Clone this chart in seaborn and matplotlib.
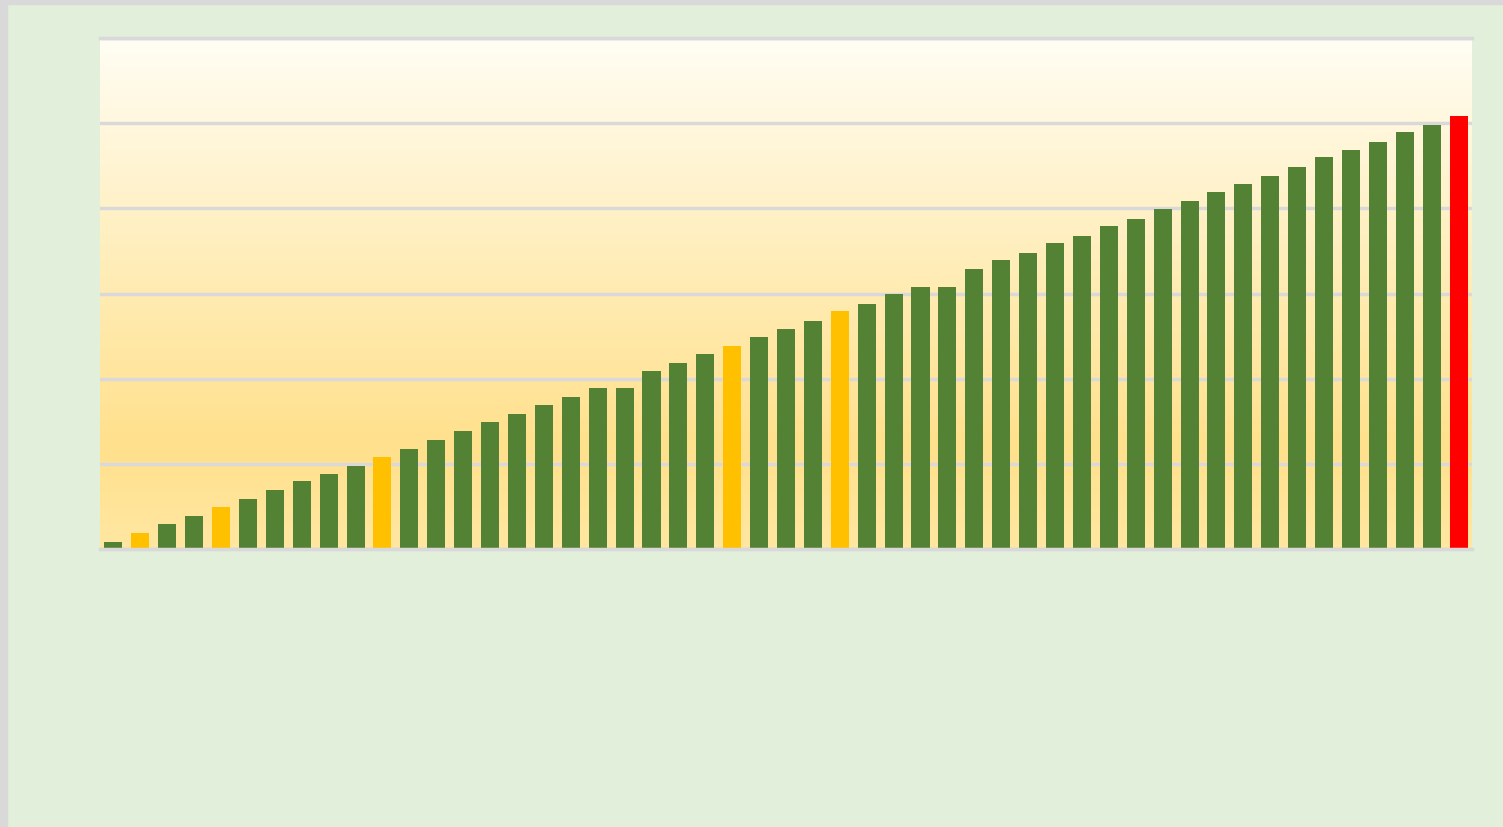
import numpy as np
import pandas as pd
import matplotlib
matplotlib.use("Agg")
import matplotlib.pyplot as plt
import seaborn as sns
from matplotlib.colors import LinearSegmentedColormap
from matplotlib.patches import Rectangle

# bar values (gridline step = 1)
positions = list(range(1, 52))
values = [0.08, 0.19, 0.29, 0.39, 0.49, 0.59, 0.69, 0.80, 0.88, 0.98,
          1.08, 1.18, 1.28, 1.38, 1.49, 1.58, 1.69, 1.78, 1.89, 1.89,
          2.09, 2.18, 2.29, 2.38, 2.49, 2.58, 2.68, 2.79, 2.88, 2.99,
          3.08, 3.08, 3.29, 3.39, 3.48, 3.59, 3.68, 3.79, 3.88, 3.99,
          4.09, 4.19, 4.29, 4.38, 4.49, 4.60, 4.69, 4.78, 4.90, 4.98,
          5.09]
highlight = [2, 5, 11, 24, 28]   # gold bars
last_bar = 51                    # red bar

green, gold, red = "#548235", "#FFC000", "#FF0000"
colors = [red if p == last_bar else gold if p in highlight else green
          for p in positions]

df = pd.DataFrame({"pos": [str(p) for p in positions], "value": values})

sns.set_style("white")
fig = plt.figure(figsize=(15.03, 8.28), dpi=100, facecolor="#E2EFDA")
ax = fig.add_axes([100 / 1503, 1 - 550 / 828, 1372 / 1503, 511 / 828])

sns.barplot(data=df, x="pos", y="value", hue="pos", palette=colors,
            legend=False, width=0.67, saturation=1, linewidth=0,
            edgecolor="none", ax=ax)

ax.set_xlim(-0.5, len(positions) - 0.5)
ax.set_ylim(0, 6)

# vertical gradient fill of the plot area
cmap = LinearSegmentedColormap.from_list(
    "bg", [(0, "#FFE7A2"), (0.2, "#FFE08C"), (0.55, "#FFEDB8"), (1, "#FFFDF4")])
grad = np.linspace(0, 1, 256).reshape(-1, 1)
ax.imshow(grad, extent=[-0.5, len(positions) - 0.5, 0, 6], origin="lower",
          aspect="auto", cmap=cmap, zorder=0)

ax.set_axisbelow(True)
ax.yaxis.grid(True, color="#D9D9D9", linewidth=2.5)
ax.set_yticks(range(0, 7))
ax.tick_params(left=False, bottom=False, labelleft=False, labelbottom=False)
ax.set_xlabel("")
ax.set_ylabel("")
for side in ["left", "right"]:
    ax.spines[side].set_visible(False)
for side in ["top", "bottom"]:
    ax.spines[side].set_color("#D9D9D9")
    ax.spines[side].set_linewidth(2.5)

# thin grey frame strips at the left and top of the picture
fig.patches.append(Rectangle((0, 0), 7 / 1503, 1, transform=fig.transFigure,
                             color="#D9D9D9", zorder=0))
fig.patches.append(Rectangle((0, 1 - 5 / 828), 1, 5 / 828, transform=fig.transFigure,
                             color="#D9D9D9", zorder=0))

fig.savefig("out.png", dpi=100, facecolor=fig.get_facecolor())
